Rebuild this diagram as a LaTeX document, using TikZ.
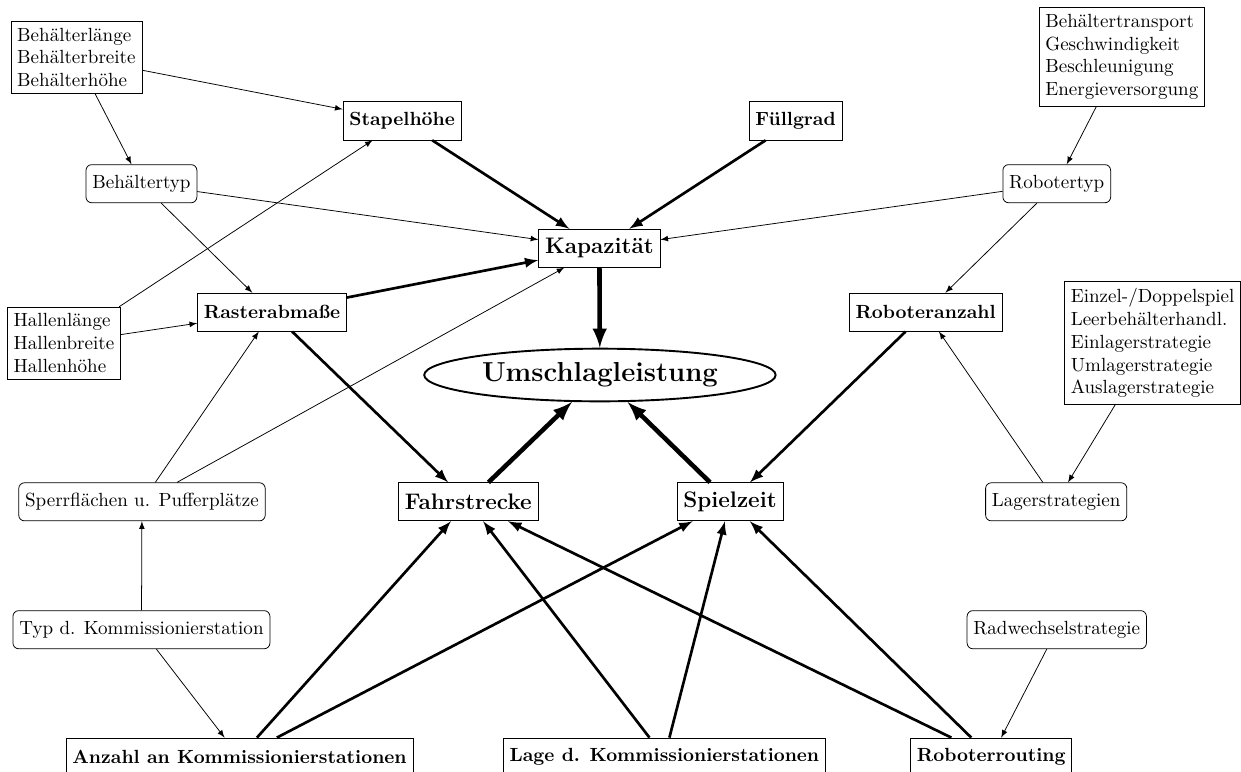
\documentclass[tikz,border=0pt]{standalone}
\usepackage{tikz}
\usetikzlibrary{shapes.geometric}

\begin{document}
\begin{tikzpicture}[>=latex,
    factor/.style={draw, minimum height=20pt, font=\bfseries},
    keyfactor/.style={draw, minimum height=20pt, font=\fontsize{11.8}{14}\selectfont\bfseries},
    param/.style={draw, rounded corners=3pt, minimum height=20pt},
    list/.style={draw, align=left},
    target/.style={draw, ellipse, line width=1pt, font=\Large\bfseries},
    weak/.style={->, thin},
    strong/.style={->, line width=1.4pt},
    strongest/.style={->, line width=2.4pt}]
    \useasboundingbox (0,0) rectangle (22.90,-14.24);

    % obere Ebene
    \node[list] (behaelter) at (1.41,-1.06) {Behälterlänge\\Behälterbreite\\Behälterhöhe};
    \node[factor] (stapel) at (7.42,-2.23) {Stapelhöhe};
    \node[factor] (fuell) at (14.68,-2.23) {Füllgrad};
    \node[list] (transport) at (20.70,-1.05) {Behältertransport\\Geschwindigkeit\\Beschleunigung\\Energieversorgung};
    \node[param] (btyp) at (2.61,-3.39) {Behältertyp};
    \node[param] (rtyp) at (19.50,-3.39) {Robotertyp};
    \node[keyfactor] (kap) at (11.06,-4.58) {Kapazität};
    \node[list] (hallen) at (1.18,-6.33) {Hallenlänge\\Hallenbreite\\Hallenhöhe};
    \node[factor] (raster) at (5.02,-5.76) {Rasterabmaße};
    \node[factor] (ranz) at (17.08,-5.76) {Roboteranzahl};
    \node[list] (strat) at (21.27,-6.33) {Einzel-/Doppelspiel\\Leerbehälterhandl.\\Einlagerstrategie\\Umlagerstrategie\\Auslagerstrategie};
    \node[target] (umschlag) at (11.07,-6.92) {Umschlagleistung};
    % untere Ebene
    \node[param] (sperr) at (2.62,-9.26) {Sperrflächen u. Pufferplätze};
    \node[keyfactor] (fahr) at (8.64,-9.26) {Fahrstrecke};
    \node[keyfactor] (spiel) at (13.47,-9.26) {Spielzeit};
    \node[param] (lager) at (19.49,-9.26) {Lagerstrategien};
    \node[param] (typ) at (2.61,-11.62) {Typ d. Kommissionierstation};
    \node[param] (radw) at (19.50,-11.62) {Radwechselstrategie};
    \node[factor] (anzahl) at (4.42,-13.97) {Anzahl an Kommissionierstationen};
    \node[factor] (lage) at (12.26,-13.97) {Lage d. Kommissionierstationen};
    \node[factor] (routing) at (18.29,-13.97) {Roboterrouting};

    % schwache Einfluesse
    \path (behaelter) edge[weak] (stapel);
    \path (behaelter) edge[weak] (btyp);
    \path (btyp) edge[weak] (kap);
    \path (btyp) edge[weak] (raster);
    \path (hallen) edge[weak] (stapel);
    \path (hallen) edge[weak] (raster);
    \path (transport) edge[weak] (rtyp);
    \path (rtyp) edge[weak] (kap);
    \path (rtyp) edge[weak] (ranz);
    \path (sperr) edge[weak] (raster);
    \path (sperr) edge[weak] (kap);
    \path (typ) edge[weak] (sperr);
    \path (typ) edge[weak] (anzahl);
    \path (strat) edge[weak] (lager);
    \path (lager) edge[weak] (ranz);
    \path (radw) edge[weak] (routing);
    % starke Einfluesse
    \path (stapel) edge[strong] (kap);
    \path (fuell) edge[strong] (kap);
    \path (raster) edge[strong] (kap);
    \path (raster) edge[strong] (fahr);
    \path (ranz) edge[strong] (spiel);
    \path (anzahl) edge[strong] (fahr);
    \path (anzahl) edge[strong] (spiel);
    \path (lage) edge[strong] (fahr);
    \path (lage) edge[strong] (spiel);
    \path (routing) edge[strong] (fahr);
    \path (routing) edge[strong] (spiel);
    % direkt auf die Umschlagleistung
    \path (kap) edge[strongest] (umschlag);
    \path (fahr) edge[strongest] (umschlag);
    \path (spiel) edge[strongest] (umschlag);
\end{tikzpicture}
\end{document}
